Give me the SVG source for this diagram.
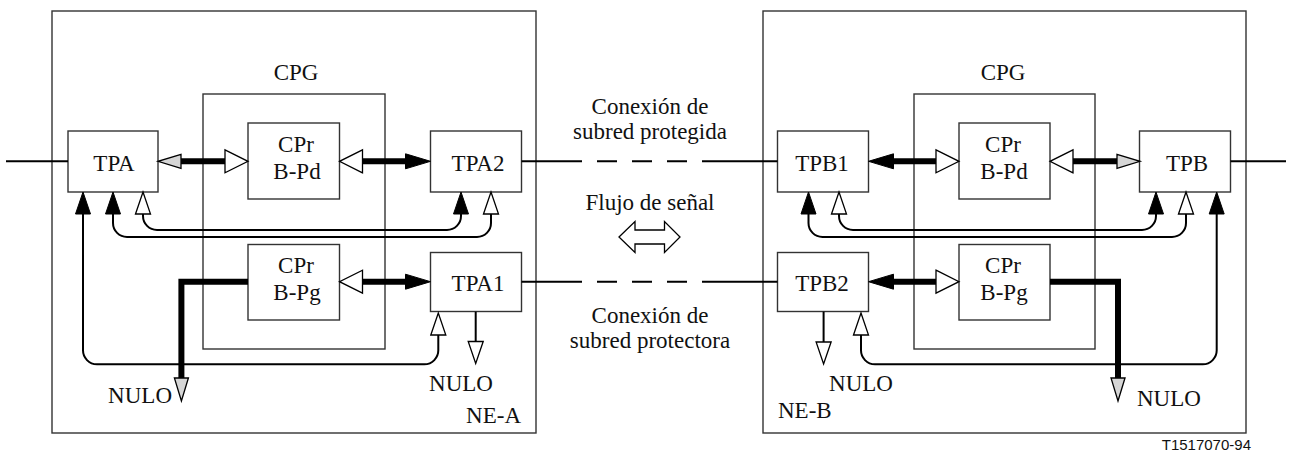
<svg xmlns="http://www.w3.org/2000/svg" width="1292" height="456" viewBox="0 0 1292 456">
  <style>
    .frame { fill: #fff; stroke: #333; stroke-width: 1.4; }
    .box { fill: #fff; stroke: #333; stroke-width: 1.4; }
    .lbl { font-family: "Liberation Serif", "Times New Roman", serif; font-size: 23px; fill: #111; text-anchor: middle; }
    .st { text-anchor: start; }
    .en { text-anchor: end; }
    .ref { font-family: "Liberation Sans", Arial, sans-serif; font-size: 15px; fill: #111; text-anchor: end; }
    .thin { fill: none; stroke: #000; stroke-width: 2; }
    .thick { fill: none; stroke: #000; stroke-width: 6; stroke-linejoin: miter; }
  </style>
  <defs>
    <!-- small heads for the thin control lines -->
    <marker id="tb" markerUnits="userSpaceOnUse" orient="auto-start-reverse" overflow="visible" refX="0" refY="0">
      <path d="M0,-7.5 L22,0 L0,7.5 Z" fill="#000" stroke="#000" stroke-width="1"/>
    </marker>
    <marker id="tw" markerUnits="userSpaceOnUse" orient="auto-start-reverse" overflow="visible" refX="0" refY="0">
      <path d="M0,-7.5 L22,0 L0,7.5 Z" fill="#fff" stroke="#000" stroke-width="1.3"/>
    </marker>
    <!-- heads for the heavy signal paths -->
    <marker id="kb" markerUnits="userSpaceOnUse" orient="auto-start-reverse" overflow="visible" refX="0" refY="0">
      <path d="M0,-7.5 L25,0 L0,7.5 Z" fill="#000" stroke="#000" stroke-width="1"/>
    </marker>
    <marker id="kw" markerUnits="userSpaceOnUse" orient="auto-start-reverse" overflow="visible" refX="0" refY="0">
      <path d="M0,-11.5 L23,0 L0,11.5 Z" fill="#fff" stroke="#000" stroke-width="1.3"/>
    </marker>
    <marker id="kg" markerUnits="userSpaceOnUse" orient="auto-start-reverse" overflow="visible" refX="0" refY="0">
      <path d="M0,-7 L23,0 L0,7 Z" fill="#d6d6d6" stroke="#000" stroke-width="1.3"/>
    </marker>
  </defs>

  <rect width="1292" height="456" fill="#fff"/>

  <!-- network element A -->
  <g id="ne-a">
    <rect class="frame" x="52" y="11" width="484" height="422"/>
    <text class="lbl en" x="521" y="423">NE-A</text>
  </g>
  <g id="cpg-a">
    <rect class="box" x="203" y="94" width="182" height="255"/>
    <text class="lbl" x="296" y="80">CPG</text>
  </g>
  <g id="tpa">
    <rect class="box" x="68" y="131" width="90" height="61"/>
    <text class="lbl" x="114" y="171">TPA</text>
  </g>
  <g id="cpr-bpd-a">
    <rect class="box" x="248" y="123" width="91.5" height="76"/>
    <text class="lbl" x="296" y="152">CPr</text>
    <text class="lbl" x="297" y="179">B-Pd</text>
  </g>
  <g id="tpa2">
    <rect class="box" x="430.5" y="131" width="91" height="61"/>
    <text class="lbl" x="478" y="171">TPA2</text>
  </g>
  <g id="cpr-bpg-a">
    <rect class="box" x="248" y="244.5" width="91.5" height="75.5"/>
    <text class="lbl" x="296" y="273">CPr</text>
    <text class="lbl" x="297" y="300">B-Pg</text>
  </g>
  <g id="tpa1">
    <rect class="box" x="430.5" y="252.5" width="91" height="59"/>
    <text class="lbl" x="478" y="291">TPA1</text>
  </g>
  <g id="nulo-a1">
    <text class="lbl en" x="172" y="403">NULO</text>
  </g>
  <g id="nulo-a2">
    <text class="lbl" x="461" y="391">NULO</text>
  </g>

  <!-- network element B -->
  <g id="ne-b">
    <rect class="frame" x="763" y="11" width="483" height="422"/>
    <text class="lbl st" x="778" y="418">NE-B</text>
  </g>
  <g id="cpg-b">
    <rect class="box" x="914" y="94" width="181" height="255"/>
    <text class="lbl" x="1003" y="80">CPG</text>
  </g>
  <g id="tpb1">
    <rect class="box" x="777.5" y="131" width="91" height="61"/>
    <text class="lbl" x="822" y="171">TPB1</text>
  </g>
  <g id="cpr-bpd-b">
    <rect class="box" x="959" y="123" width="91" height="76"/>
    <text class="lbl" x="1003" y="152">CPr</text>
    <text class="lbl" x="1004" y="179">B-Pd</text>
  </g>
  <g id="tpb">
    <rect class="box" x="1139.5" y="131" width="91" height="61"/>
    <text class="lbl" x="1187" y="171">TPB</text>
  </g>
  <g id="tpb2">
    <rect class="box" x="777.5" y="252.5" width="91" height="59"/>
    <text class="lbl" x="822" y="291">TPB2</text>
  </g>
  <g id="cpr-bpg-b">
    <rect class="box" x="959" y="244.5" width="91" height="75.5"/>
    <text class="lbl" x="1003" y="273">CPr</text>
    <text class="lbl" x="1004" y="300">B-Pg</text>
  </g>
  <g id="nulo-b1">
    <text class="lbl" x="861" y="391">NULO</text>
  </g>
  <g id="nulo-b2">
    <text class="lbl st" x="1137" y="406">NULO</text>
  </g>

  <!-- subnetwork connection labels -->
  <g id="snc-protected">
    <text class="lbl" x="650" y="114">Conexión de</text>
    <text class="lbl" x="650" y="139">subred protegida</text>
  </g>
  <g id="snc-protecting">
    <text class="lbl" x="650" y="323">Conexión de</text>
    <text class="lbl" x="650" y="348">subred protectora</text>
  </g>
  <g id="signal-flow">
    <text class="lbl" x="650" y="210">Flujo de señal</text>
    <polygon points="619,237 635,221.5 635,230 664.5,230 664.5,221.5 680,237 664.5,252.5 664.5,244 635,244 635,252.5" fill="#fff" stroke="#000" stroke-width="1.3" stroke-linejoin="miter"/>
  </g>

  <g id="connectors">
    <!-- line side -->
    <path class="thin" d="M6,161.3 H68"/>
    <path class="thin" d="M1230.5,161.3 H1286"/>
    <path class="thin" d="M521.5,161.3 H582 M597,161.3 H617 M632,161.3 H652 M667,161.3 H687 M702,161.3 H777.5"/>
    <path class="thin" d="M521.5,281.7 H582 M597,281.7 H617 M632,281.7 H652 M667,281.7 H687 M702,281.7 H777.5"/>

    <!-- NE-A heavy paths -->
    <path class="thick" d="M181,161.3 H225" marker-start="url(#kg)" marker-end="url(#kw)"/>
    <path class="thick" d="M362.5,161.3 H405.5" marker-start="url(#kw)" marker-end="url(#kb)"/>
    <path class="thick" d="M362.5,281.7 H405.5" marker-start="url(#kw)" marker-end="url(#kb)"/>
    <path class="thick" d="M248,281.7 H181.4 V378" marker-end="url(#kg)"/>

    <!-- NE-A control lines -->
    <path class="thin" d="M438.3,335 V350 A14,14 0 0 1 424.3,364.3 H97 A14,14 0 0 1 83,350 V214" marker-start="url(#tw)" marker-end="url(#tb)"/>
    <path class="thin" d="M113,214 V223 A14,14 0 0 0 127,237 H477 A14,14 0 0 0 491,223 V214" marker-start="url(#tb)" marker-end="url(#tw)"/>
    <path class="thin" d="M143,214 V216 A14,14 0 0 0 157,230 H447 A14,14 0 0 0 461,216 V214" marker-start="url(#tw)" marker-end="url(#tb)"/>
    <path class="thin" d="M475.7,311.7 V341.5" marker-end="url(#tw)"/>

    <!-- NE-B heavy paths -->
    <path class="thick" d="M893.5,161.3 H936" marker-start="url(#kb)" marker-end="url(#kw)"/>
    <path class="thick" d="M1073,161.3 H1117" marker-start="url(#kw)" marker-end="url(#kg)"/>
    <path class="thick" d="M893.5,281.7 H936" marker-start="url(#kb)" marker-end="url(#kw)"/>
    <path class="thick" d="M1050,281.7 H1118 V378" marker-end="url(#kg)"/>

    <!-- NE-B control lines -->
    <path class="thin" d="M808.5,214 V223 A14,14 0 0 0 822.5,237 H1172 A14,14 0 0 0 1186,223 V214" marker-start="url(#tb)" marker-end="url(#tw)"/>
    <path class="thin" d="M839,214 V216 A14,14 0 0 0 853,230 H1142 A14,14 0 0 0 1156,216 V214" marker-start="url(#tw)" marker-end="url(#tb)"/>
    <path class="thin" d="M861,335 V350 A14,14 0 0 0 875,364.3 H1202.7 A14,14 0 0 0 1216.7,350 V214" marker-start="url(#tw)" marker-end="url(#tb)"/>
    <path class="thin" d="M823.6,311.7 V342" marker-end="url(#tw)"/>
  </g>

  <text class="ref" x="1251" y="450">T1517070-94</text>
</svg>
